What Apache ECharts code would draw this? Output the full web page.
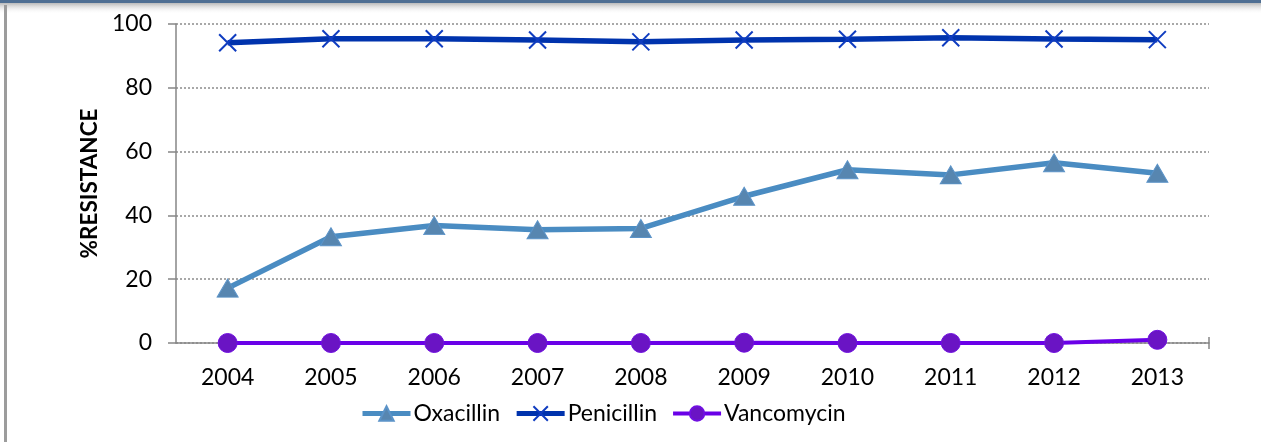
<!DOCTYPE html>
<html>
<head>
<meta charset="utf-8">
<script src="https://cdn.jsdelivr.net/npm/echarts@6/dist/echarts.min.js"></script>
<style>
  html, body { margin: 0; padding: 0; background: #fff; }
  #chart { width: 1261px; height: 442px; }
</style>
</head>
<body>
<div id="chart"></div>
<script>
// Yearly resistance rates (%)
const years = ['2004', '2005', '2006', '2007', '2008', '2009', '2010', '2011', '2012', '2013'];
const oxacillin = [17.2, 33.3, 36.8, 35.5, 35.9, 46.0, 54.3, 52.7, 56.5, 53.2];
const penicillin = [94.1, 95.4, 95.4, 95.0, 94.4, 95.0, 95.2, 95.7, 95.3, 95.1];
const vancomycin = [0, 0, 0, 0, 0, 0.1, 0, 0, 0, 1.0];
const yTicks = { min: 0, max: 100, interval: 20 };

const FONT = 'Lato, "Open Sans", sans-serif';
const GRID = { left: 176, right: 52, top: 24, bottom: 99 };

const chart = echarts.init(document.getElementById('chart'), null, { renderer: 'canvas' });

const crossPath = 'path://M0,0L10,10M10,0L0,10';

chart.setOption({
  animation: false,
  backgroundColor: '#ffffff',
  grid: GRID,
  textStyle: { fontFamily: FONT },
  legend: {
    top: 402,
    left: 360,
    padding: 0,
    itemWidth: 48,
    itemHeight: 18,
    itemGap: 14,
    textStyle: { fontFamily: FONT, fontSize: 23, color: '#000', padding: [0, 0, 0, -2] },
    data: [
      { name: 'Oxacillin', lineStyle: { width: 5 } },
      { name: 'Penicillin', lineStyle: { width: 5 } },
      { name: 'Vancomycin', lineStyle: { width: 4 } }
    ]
  },
  xAxis: {
    type: 'category',
    data: years,
    boundaryGap: true,
    axisLine: { lineStyle: { color: '#868686', width: 1.5 } },
    axisTick: { show: false },
    axisLabel: { fontFamily: FONT, fontSize: 23, color: '#000', margin: 23 },
    splitLine: { show: false }
  },
  yAxis: {
    type: 'value',
    min: yTicks.min,
    max: yTicks.max,
    interval: yTicks.interval,
    name: '%RESISTANCE',
    nameLocation: 'middle',
    nameGap: 75,
    nameRotate: 90,
    nameTextStyle: { fontFamily: FONT, fontSize: 22.5, fontWeight: 'bold', color: '#000' },
    axisLine: { show: true, lineStyle: { color: '#868686', width: 1.5 } },
    axisTick: { show: true, length: 8, lineStyle: { color: '#868686', width: 1.5 } },
    axisLabel: { fontFamily: FONT, fontSize: 23, color: '#000', margin: 24 },
    splitLine: { show: true, lineStyle: { color: '#8c8c8c', type: [2, 2], width: 1.5 } }
  },
  series: [
    {
      name: 'Oxacillin',
      type: 'line',
      data: oxacillin,
      symbol: 'triangle',
      symbolSize: [21, 18],
      lineStyle: { color: '#4a8cc2', width: 5.5 },
      itemStyle: { color: '#5786b0', borderColor: '#5b93c8', borderWidth: 1 },
      z: 3
    },
    {
      name: 'Penicillin',
      type: 'line',
      data: penicillin,
      symbol: crossPath,
      symbolSize: 17,
      lineStyle: { color: '#0033ad', width: 5.5 },
      itemStyle: { color: 'rgba(0,0,0,0)', borderColor: '#0f3cc0', borderWidth: 2 },
      z: 3
    },
    {
      name: 'Vancomycin',
      type: 'line',
      data: vancomycin,
      symbol: 'circle',
      symbolSize: 19,
      lineStyle: { color: '#6a00e8', width: 4 },
      itemStyle: { color: '#6a14c4', borderColor: '#7010e0', borderWidth: 1 },
      z: 4
    }
  ]
});

// Frame decoration and the closing tick at the end of the category axis
const W = 1261, H = 442;
const axisY = H - GRID.bottom;
const endX = W - GRID.right;
chart.setOption({
  graphic: [
    {
      type: 'rect', left: 0, top: 0, silent: true,
      shape: { width: W, height: 14 },
      style: {
        fill: new echarts.graphic.LinearGradient(0, 0, 0, 1, [
          { offset: 0, color: '#9a9a9a' },
          { offset: 0.35, color: '#cfcfcf' },
          { offset: 1, color: 'rgba(255,255,255,0)' }
        ])
      }
    },
    {
      type: 'rect', left: 0, top: 0, silent: true,
      shape: { width: W, height: 3 },
      style: { fill: '#4f6f93' }
    },
    {
      type: 'rect', left: 4, top: 5, silent: true,
      shape: { width: 3, height: H - 5 },
      style: { fill: '#9c9c9c' }
    },
    {
      type: 'line', silent: true,
      shape: { x1: endX, y1: axisY - 6, x2: endX, y2: axisY + 6 },
      style: { stroke: '#868686', lineWidth: 1.5 }
    }
  ]
});
</script>
</body>
</html>
